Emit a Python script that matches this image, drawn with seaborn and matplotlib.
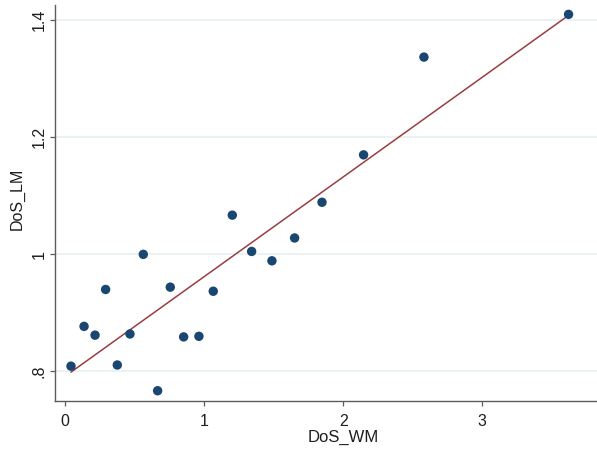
import matplotlib
matplotlib.use("Agg")
import matplotlib.pyplot as plt
import seaborn as sns
import pandas as pd

# DoS values for the WM and LM samples
dos_wm = [0.043, 0.137, 0.216, 0.292, 0.376, 0.467, 0.563, 0.666, 0.757, 0.853,
          0.963, 1.066, 1.203, 1.342, 1.488, 1.651, 1.848, 2.147, 2.581, 3.621]
dos_lm = [0.809, 0.877, 0.862, 0.940, 0.811, 0.864, 1.000, 0.767, 0.944, 0.859,
          0.860, 0.937, 1.067, 1.005, 0.989, 1.028, 1.089, 1.170, 1.337, 1.410]

x_ticks = [0, 1, 2, 3]
x_tick_labels = ["0", "1", "2", "3"]
y_ticks = [0.8, 1.0, 1.2, 1.4]
y_tick_labels = [".8", "1", "1.2", "1.4"]

df = pd.DataFrame({"DoS_WM": dos_wm, "DoS_LM": dos_lm})

sns.set_theme(style="white")
plt.rcParams["font.family"] = ["Liberation Sans", "DejaVu Sans"]

fig = plt.figure(figsize=(5.97, 4.5), dpi=100)
ax = fig.add_axes([55 / 597, 1 - 400.7 / 450, (631 - 55) / 597, (400.7 - 5) / 450])

navy = "#1a476f"
maroon = "#9a3d43"

sns.regplot(data=df, x="DoS_WM", y="DoS_LM", ax=ax, ci=None,
            scatter_kws=dict(s=46, color=navy, edgecolor="none", alpha=1, zorder=3),
            line_kws=dict(color=maroon, lw=1.1, zorder=2))

ax.set_xlim(-0.072, 4.07)
ax.set_ylim(0.750, 1.426)

ax.set_xticks(x_ticks, x_tick_labels)
ax.set_yticks(y_ticks, y_tick_labels)
for lab in ax.get_yticklabels():
    lab.set_rotation(90)
    lab.set_va("center")

ax.grid(axis="y", color="#e6eff2", lw=1.1, zorder=0)
ax.set_axisbelow(True)
for side in ("top", "right"):
    ax.spines[side].set_visible(False)
for side in ("left", "bottom"):
    ax.spines[side].set_color("#5c5c5c")
    ax.spines[side].set_linewidth(1.0)

ax.tick_params(axis="both", which="major", direction="out", length=3.6, width=0.9,
               color="#5c5c5c", labelsize=11.5, labelcolor="#1e1e1e",
               left=True, bottom=True)
ax.tick_params(axis="x", pad=6.0)
ax.tick_params(axis="y", pad=2.5)

ax.set_xlabel("DoS_WM", fontsize=12, color="#1e1e1e")
ax.set_ylabel("DoS_LM", fontsize=11.5, color="#1e1e1e")
ax.xaxis.set_label_coords(0.5, -0.073)
ax.yaxis.set_label_coords(-0.052, 0.51)

fig.savefig("out.png", dpi=100)
